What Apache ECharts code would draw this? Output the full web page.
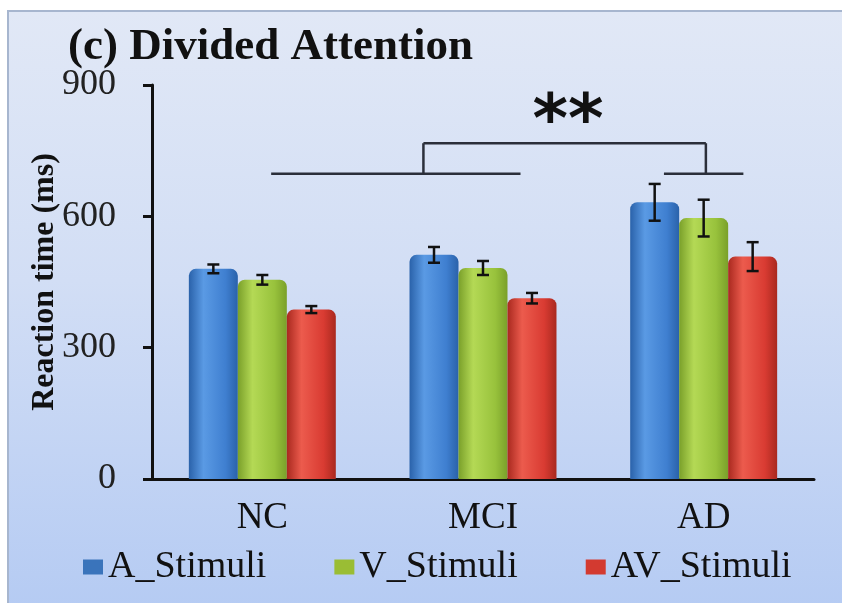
<!DOCTYPE html>
<html>
<head>
<meta charset="utf-8">
<script src="https://cdn.jsdelivr.net/npm/echarts@6/dist/echarts.min.js"></script>
<style>
  html, body { margin: 0; padding: 0; background: #fff; }
  #wrap { position: relative; width: 842px; height: 603px; overflow: hidden; }
  #panel {
    position: absolute; left: 7px; top: 10px; width: 840px; height: 600px;
    border: 2px solid #a7b6cf; box-sizing: border-box;
    background: linear-gradient(to bottom, #e1e8f6 0%, #d2def5 45%, #b5cbf3 100%);
  }
  #chart { position: absolute; left: 0; top: 0; width: 842px; height: 603px; }
</style>
</head>
<body>
<div id="wrap">
  <div id="panel"></div>
  <div id="chart"></div>
</div>
<script>
// groups on the x axis
const groups = ["NC", "MCI", "AD"];
const seriesNames = ["A_Stimuli", "V_Stimuli", "AV_Stimuli"];
// mean reaction time (ms)
const aMean = [480, 512, 632];
const vMean = [455, 482, 596];
const avMean = [387, 413, 508];
// error bar half-length (ms)
const aErr = [10, 18, 42];
const vErr = [11, 16, 42];
const avErr = [8, 12, 33];
const yTicks = [0, 300, 600, 900];
// significance bracket, x in category units (0..3), y in ms
const sigSegments = [
  [0.54, 697, 1.67, 697],
  [2.32, 697, 2.68, 697],
  [1.23, 697, 1.23, 767],
  [1.23, 767, 2.51, 767],
  [2.51, 767, 2.51, 697]
];
const sigMark = [1.885, 843, "**"];

const BAR_FRAC = 0.222;
const serif = "'Liberation Serif', 'Times New Roman', serif";

function barGrad(dark, light, mid) {
  return new echarts.graphic.LinearGradient(0, 0, 1, 0, [
    { offset: 0, color: dark },
    { offset: 0.3, color: light },
    { offset: 0.75, color: mid },
    { offset: 1, color: dark }
  ]);
}
const colors = [
  barGrad("#2a62aa", "#5a9ae4", "#3f7fd0"),
  barGrad("#7aa02a", "#b4d955", "#98c23c"),
  barGrad("#a9291f", "#ec5b4d", "#d93b32")
];
const legendColors = ["#3a74bb", "#9abd34", "#d33a30"];

function barSeries(i, values) {
  return {
    name: seriesNames[i],
    type: "bar",
    data: values,
    barWidth: (BAR_FRAC * 100) + "%",
    barGap: "0%",
    itemStyle: { color: colors[i], borderRadius: [7, 7, 0, 0] },
    emphasis: { disabled: true }
  };
}

function errSeries(i, means, errs) {
  return {
    type: "custom",
    name: "err" + i,
    z: 10,
    encode: { x: 0, y: 1 },
    data: means.map((m, k) => [k, m, errs[k]]),
    renderItem: function (params, api) {
      const c = api.value(0), m = api.value(1), e = api.value(2);
      const band = api.size([1, 0])[0];
      const x = api.coord([c, m])[0] + (i - 1) * band * BAR_FRAC;
      const top = api.coord([c, m + e])[1];
      const bot = api.coord([c, m - e])[1];
      const hw = 6;
      const st = { stroke: "#111", lineWidth: 2.5 };
      return {
        type: "group",
        children: [
          { type: "line", shape: { x1: x, y1: top, x2: x, y2: bot }, style: st },
          { type: "line", shape: { x1: x - hw, y1: top, x2: x + hw, y2: top }, style: st },
          { type: "line", shape: { x1: x - hw, y1: bot, x2: x + hw, y2: bot }, style: st }
        ]
      };
    }
  };
}

const chart = echarts.init(document.getElementById("chart"));
chart.setOption({
  animation: false,
  title: {
    text: "(c) Divided Attention",
    left: 63,
    top: 20,
    textStyle: { fontFamily: serif, fontWeight: "bold", fontSize: 45, color: "#111" }
  },
  legend: {
    data: seriesNames.map((n, i) => ({ name: n, itemStyle: { color: legendColors[i] } })),
    left: 78,
    top: 543,
    itemWidth: 20,
    itemHeight: 15,
    itemGap: 68,
    icon: "rect",
    textStyle: { fontFamily: serif, fontSize: 38, color: "#111" }
  },
  grid: { left: 152, right: 28, top: 85, bottom: 124 },
  xAxis: [
    {
      type: "category",
      data: groups,
      axisLine: { lineStyle: { color: "#111", width: 3 } },
      axisTick: { length: 8, lineStyle: { color: "#111", width: 3 } },
      axisLabel: { margin: 21, fontFamily: serif, fontSize: 37, color: "#111" }
    },
    { type: "value", min: 0, max: 3, show: false }
  ],
  yAxis: {
    type: "value",
    min: yTicks[0],
    max: yTicks[yTicks.length - 1],
    interval: 300,
    name: "Reaction time (ms)",
    nameLocation: "middle",
    nameGap: 91,
    nameMoveOverlap: false,
    nameTextStyle: { fontFamily: serif, fontWeight: "bold", fontSize: 32, color: "#111" },
    axisLine: { show: true, lineStyle: { color: "#111", width: 3 } },
    axisTick: { show: true, length: 9, lineStyle: { color: "#111", width: 3 } },
    axisLabel: { margin: 36, fontFamily: serif, fontSize: 36, color: "#222" },
    splitLine: { show: false }
  },
  series: [
    barSeries(0, aMean),
    barSeries(1, vMean),
    barSeries(2, avMean),
    errSeries(0, aMean, aErr),
    errSeries(1, vMean, vErr),
    errSeries(2, avMean, avErr),
    {
      type: "custom",
      name: "sig",
      xAxisIndex: 1,
      z: 5,
      encode: { x: [0, 2], y: [1, 3] },
      data: sigSegments,
      renderItem: function (params, api) {
        const p1 = api.coord([api.value(0), api.value(1)]);
        const p2 = api.coord([api.value(2), api.value(3)]);
        return {
          type: "line",
          shape: { x1: p1[0], y1: p1[1], x2: p2[0], y2: p2[1] },
          style: { stroke: "#2b2f3a", lineWidth: 2.5 }
        };
      }
    },
    {
      type: "custom",
      name: "sigMark",
      xAxisIndex: 1,
      z: 5,
      encode: { x: 0, y: 1 },
      data: [sigMark],
      renderItem: function (params, api) {
        const p = api.coord([api.value(0), api.value(1)]);
        return {
          type: "text",
          x: p[0],
          y: p[1] + 14,
          style: {
            text: sigMark[2],
            fontFamily: "'DejaVu Sans', sans-serif",
            fontWeight: "bold",
            fontSize: 68,
            fill: "#111",
            align: "center",
            verticalAlign: "middle"
          }
        };
      }
    }
  ]
});
</script>
</body>
</html>
